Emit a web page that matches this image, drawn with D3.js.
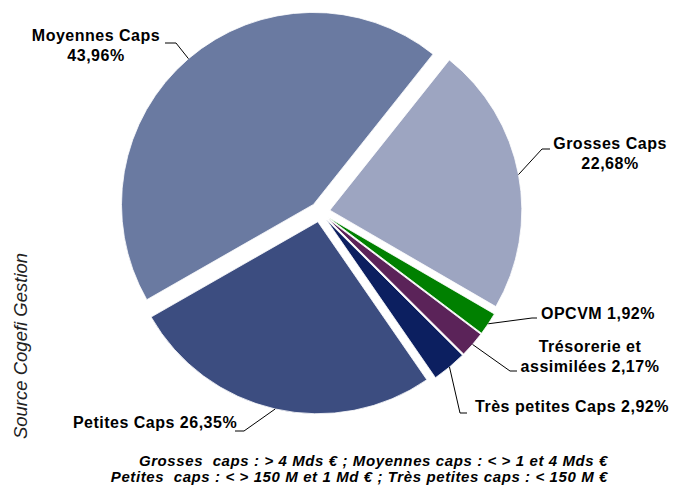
<!DOCTYPE html>
<html>
<head>
<meta charset="utf-8">
<script src="https://cdn.jsdelivr.net/npm/d3@7"></script>
<style>
  body { margin: 0; background: #fff; }
  svg { display: block; }
  .lbl { font-family: Arial, "Liberation Sans", sans-serif; font-weight: bold; font-size: 16px; fill: #000; letter-spacing: 0.5px; }
  .note { font-family: Arial, "Liberation Sans", sans-serif; font-weight: bold; font-style: italic; font-size: 15px; fill: #000; white-space: pre; letter-spacing: 0.6px; }
  .src { font-family: Arial, "Liberation Sans", sans-serif; font-style: italic; font-size: 18.5px; fill: #222; }
</style>
</head>
<body>
<script>
// data (order = clockwise from the first slice)
const categories = ["Grosses Caps", "OPCVM", "Trésorerie et assimilées", "Très petites Caps", "Petites Caps", "Moyennes Caps"];
const values = [22.68, 1.92, 2.17, 2.92, 26.35, 43.96];
const colors = ["#9da5c1", "#008000", "#5b2359", "#0c1f60", "#3c4d80", "#6a7aa1"];
const footnotes = [
  "Grosses  caps : > 4 Mds € ; Moyennes caps : < > 1 et 4 Mds €",
  "Petites  caps : < > 150 M et 1 Md € ; Très petites caps : < 150 M €"
];
const source = "Source Cogefi Gestion";

const width = 674, height = 486;
const cx = 320, cy = 212, r = 192, explode = 10;
const startDeg = 38.5;

const fmt = v => d3.format(".2f")(v).replace(".", ",") + "%";

// label layout: how the text wraps, anchor, elbow and end of the leader
const labelLayout = [
  {lines: (n, p) => [n, p], x: 610, y: 149, elbow: [542, 149], end: [550, 149]},
  {lines: (n, p) => [n + " " + p], x: 598, y: 319, elbow: [532, 318], end: [537, 318]},
  {lines: (n, p) => ["Trésorerie et", "assimilées " + p], x: 590, y: 352, elbow: [510, 371], end: [517, 371]},
  {lines: (n, p) => [n + " " + p], x: 572, y: 412, elbow: [460, 413], end: [467, 413]},
  {lines: (n, p) => [n + " " + p], x: 155, y: 428, elbow: [244, 431], end: [235, 431]},
  {lines: (n, p) => [n, p], x: 96, y: 41, elbow: [176, 43], end: [165, 43]}
];

const svg = d3.select("body").append("svg")
  .attr("width", width)
  .attr("height", height);

const pie = d3.pie()
  .sort(null)
  .value(d => d)
  .startAngle(startDeg * Math.PI / 180)
  .endAngle((startDeg + 360) * Math.PI / 180);

const arc = d3.arc().innerRadius(0).outerRadius(r);

const arcs = pie(values);

// unit vector for a d3 angle (clockwise from 12 o'clock)
const dir = a => [Math.sin(a), -Math.cos(a)];

const g = svg.append("g").attr("transform", `translate(${cx},${cy})`);

g.selectAll("path.slice")
  .data(arcs)
  .join("path")
  .attr("class", "slice")
  .attr("transform", d => {
    const m = (d.startAngle + d.endAngle) / 2;
    const [ux, uy] = dir(m);
    return `translate(${ux * explode},${uy * explode})`;
  })
  .attr("d", arc)
  .attr("fill", (d, i) => colors[i])
  .attr("stroke", "#fff")
  .attr("stroke-width", 0.8);

// leader lines from slice edge (mid angle) to the label
svg.selectAll("polyline.leader")
  .data(arcs)
  .join("polyline")
  .attr("class", "leader")
  .attr("points", (d, i) => {
    const m = (d.startAngle + d.endAngle) / 2;
    const [ux, uy] = dir(m);
    const p0 = [cx + ux * (r + explode), cy + uy * (r + explode)];
    const L = labelLayout[i];
    return [p0, L.elbow, L.end].map(p => p.join(",")).join(" ");
  })
  .attr("fill", "none")
  .attr("stroke", "#000")
  .attr("stroke-width", 1);

// labels
arcs.forEach((d, i) => {
  const L = labelLayout[i];
  const lines = L.lines(categories[i], fmt(values[i]));
  const t = svg.append("text")
    .attr("class", "lbl")
    .attr("text-anchor", "middle")
    .attr("x", L.x)
    .attr("y", L.y);
  lines.forEach((s, k) => {
    t.append("tspan")
      .attr("x", L.x)
      .attr("dy", k === 0 ? 0 : 19.5)
      .text(s);
  });
});

// footnote
svg.selectAll("text.note")
  .data(footnotes)
  .join("text")
  .attr("class", "note")
  .attr("text-anchor", "end")
  .attr("x", 608)
  .attr("y", (d, i) => 466 + i * 16)
  .text(d => d);

// vertical source
svg.append("text")
  .attr("class", "src")
  .attr("text-anchor", "middle")
  .attr("transform", "translate(27,346) rotate(-90)")
  .text(source);
</script>
</body>
</html>
